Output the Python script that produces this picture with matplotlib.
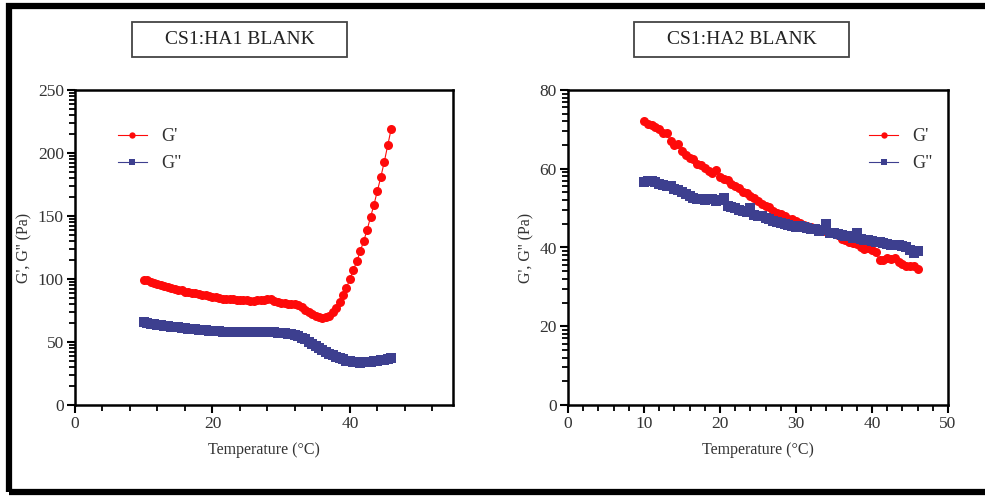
import numpy as np
import matplotlib
matplotlib.use("Agg")
import matplotlib.pyplot as plt
from matplotlib.ticker import MultipleLocator, FixedLocator
from matplotlib.patches import Rectangle

plt.rcParams['font.family'] = ['Liberation Serif', 'DejaVu Serif']

# temperature sweep (deg C), 0.5 step
temps = [10.0, 10.5, 11.0, 11.5, 12.0, 12.5, 13.0, 13.5, 14.0, 14.5,
         15.0, 15.5, 16.0, 16.5, 17.0, 17.5, 18.0, 18.5, 19.0, 19.5,
         20.0, 20.5, 21.0, 21.5, 22.0, 22.5, 23.0, 23.5, 24.0, 24.5,
         25.0, 25.5, 26.0, 26.5, 27.0, 27.5, 28.0, 28.5, 29.0, 29.5,
         30.0, 30.5, 31.0, 31.5, 32.0, 32.5, 33.0, 33.5, 34.0, 34.5,
         35.0, 35.5, 36.0, 36.5, 37.0, 37.5, 38.0, 38.5, 39.0, 39.5,
         40.0, 40.5, 41.0, 41.5, 42.0, 42.5, 43.0, 43.5, 44.0, 44.5,
         45.0, 45.5, 46.0]

# CS1:HA1 blank
ha1_gp = [99.5, 99, 98, 97, 96, 95, 94.5, 93.5, 93, 92,
          91.5, 91, 90, 89.5, 89, 88.5, 88, 87.5, 87, 86.5,
          86, 85.5, 85, 84.5, 84.5, 84, 84, 83.5, 83, 83,
          83, 82.5, 82.5, 83, 83, 83.5, 84.5, 84, 82.5, 81.5,
          81, 81, 80.5, 80.5, 80, 79, 77.5, 75.5, 73.5, 72,
          70.5, 69.5, 69, 69.5, 71, 73.5, 77, 81.5, 87, 93,
          100, 107, 114, 122, 130, 139, 149, 159, 170, 181,
          193, 206, 219]
ha1_gpp = [65.5, 65, 64.5, 64, 63.5, 63.2, 63, 62.6, 62.3, 62,
           61.6, 61.3, 61, 60.6, 60.3, 60, 59.8, 59.5, 59.2, 59,
           58.8, 58.6, 58.4, 58.2, 58.1, 58, 58, 57.9, 57.8, 57.8,
           57.7, 57.7, 57.7, 57.7, 57.8, 57.8, 57.9, 57.8, 57.6, 57.4,
           57.2, 57, 56.7, 56.3, 55.7, 54.8, 53.5, 52, 50.3, 48.5,
           46.8, 45, 43.5, 42, 40.7, 39.5, 38.3, 37.2, 36.2, 35.3,
           34.6, 34.1, 33.8, 33.7, 33.8, 34, 34.3, 34.7, 35.1, 35.6,
           36.1, 36.7, 37.4]

# CS1:HA2 blank
ha2_gp = [72, 71.3, 71, 70.5, 70, 69, 69.2, 67, 66, 66.2,
          64.5, 63.5, 62.8, 62.6, 61.3, 61, 60.2, 59.5, 59, 59.6,
          57.8, 57.5, 57.2, 56, 55.6, 55.2, 54, 53.8, 53, 52.5,
          51.8, 51, 50.5, 50.4, 49.3, 48.8, 48.5, 48, 47.3, 47.2,
          46.8, 46.3, 45.8, 45.5, 45.3, 44.9, 44.5, 44.3, 44.2, 44,
          43.6, 43.3, 42.2, 41.8, 41.5, 41.2, 40.8, 40.2, 39.6, 39.8,
          39.4, 38.8, 36.8, 36.7, 37.4, 37.2, 37.3, 36.2, 35.8, 35.3,
          35.4, 35.2, 34.5]
ha2_gpp = [56.6, 57, 57, 56.6, 56, 55.8, 55.5, 55.6, 54.8, 54.5,
           54.2, 53.5, 53, 52.6, 52.4, 52.3, 52, 52.4, 52.3, 51.8,
           52, 52.5, 50.5, 50.2, 50, 49.5, 49.3, 49, 50, 48.2,
           47.9, 48, 47.5, 47.2, 46.8, 46.5, 46.3, 45.9, 45.7, 45.5,
           45.3, 45.4, 45.2, 45, 44.8, 44.6, 44.3, 44.4, 46, 43.7,
           43.6, 43.5, 43.3, 43, 42.8, 42.5, 43.6, 42.2, 42, 41.8,
           41.7, 41.3, 41.5, 41.2, 40.8, 40.6, 40.7, 40.6, 40.5, 40,
           39.3, 38.6, 39]

red = '#fe0a0a'
navy = '#3d3f8f'
txt = '#333333'

fig = plt.figure(figsize=(9.85, 4.98), dpi=100)

# outer frame (top and bottom bars, left bar)
fig.add_artist(Rectangle((8.5 / 985, 6.5 / 498), 1.1, 1 - 13 / 498,
                         transform=fig.transFigure, fill=False,
                         edgecolor='black', linewidth=4.5, clip_on=False))


def style_axes(ax, xmax, xmajor, xminor, ymax, ymajor):
    ax.set_xlim(0, xmax)
    ax.set_ylim(0, ymax)
    ax.xaxis.set_major_locator(MultipleLocator(xmajor))
    ax.xaxis.set_minor_locator(MultipleLocator(xminor))
    ax.yaxis.set_major_locator(MultipleLocator(ymajor))
    minors = []
    for m in np.arange(0, ymax, ymajor):
        minors += [m + ymajor * np.log10(k) for k in range(2, 10)]
    ax.yaxis.set_minor_locator(FixedLocator(minors))
    ax.tick_params(which='major', direction='out', length=6, width=1.5,
                   labelsize=12.5, labelcolor=txt, pad=2)
    ax.tick_params(which='minor', direction='out', length=4, width=1.3)
    for s in ax.spines.values():
        s.set_linewidth(1.8)
    ax.set_xlabel('Temperature (°C)', fontsize=11.5, color=txt, labelpad=7)
    ax.set_ylabel("G', G'' (Pa)", fontsize=11.5, color=txt, labelpad=4)


def title_box(cx, label):
    w, h = 215 / 985, 35 / 498
    cy = 1 - 39.5 / 498
    fig.add_artist(Rectangle((cx - w / 2, cy - h / 2), w, h,
                             transform=fig.transFigure, fill=False,
                             edgecolor='#444444', linewidth=1.3))
    fig.text(cx, cy, label, ha='center', va='center', fontsize=14,
             color='#222222')


# left panel
ax1 = fig.add_axes([75 / 985, 93 / 498, 378 / 985, 315 / 498])
ax1.plot(temps, ha1_gp, '-o', color=red, ms=6.5, mew=0, lw=0.8, label="G'")
ax1.plot(temps, ha1_gpp, '-s', color=navy, ms=6.5, mew=0, lw=0.8, label='G"')
style_axes(ax1, 55, 20, 4, 250, 50)
ax1.legend(loc='upper left', bbox_to_anchor=(0.07, 0.93), frameon=False,
           fontsize=13, handlelength=1.6, markerscale=0.7, labelspacing=0.55,
           labelcolor=txt)
title_box(239.5 / 985, 'CS1:HA1 BLANK')

# right panel
ax2 = fig.add_axes([568 / 985, 93 / 498, 380 / 985, 315 / 498])
ax2.plot(temps, ha2_gp, '-o', color=red, ms=6.5, mew=0, lw=0.8, label="G'")
ax2.plot(temps, ha2_gpp, '-s', color=navy, ms=6.5, mew=0, lw=0.8, label='G"')
style_axes(ax2, 50, 10, 2, 80, 20)
ax2.legend(loc='upper left', bbox_to_anchor=(0.75, 0.93), frameon=False,
           fontsize=13, handlelength=1.6, markerscale=0.7, labelspacing=0.55,
           labelcolor=txt)
title_box(741.5 / 985, 'CS1:HA2 BLANK')

fig.savefig('out.png', dpi=100)
